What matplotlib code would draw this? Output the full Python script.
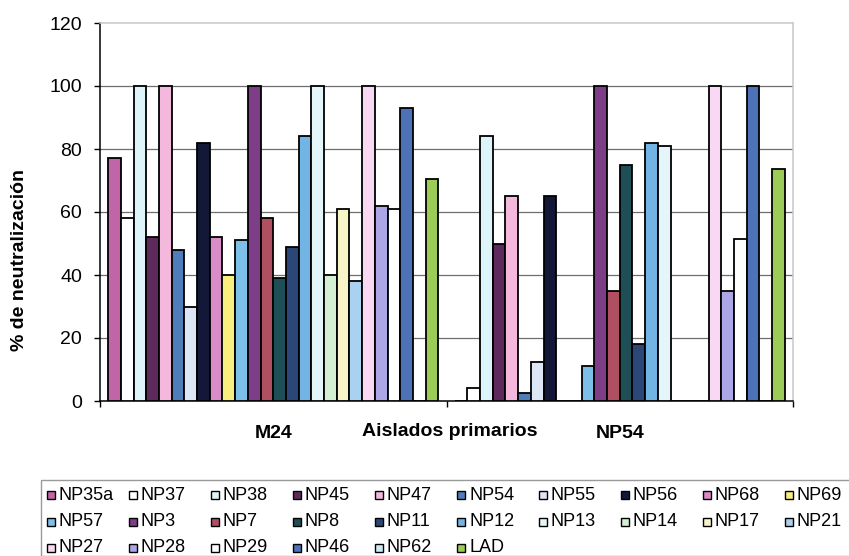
import matplotlib.pyplot as plt
import numpy as np
from matplotlib.patches import Rectangle

W, H = 849, 556

categories = ['M24', 'NP54']
series = ['NP35a', 'NP37', 'NP38', 'NP45', 'NP47', 'NP54', 'NP55', 'NP56', 'NP68', 'NP69',
          'NP57', 'NP3', 'NP7', 'NP8', 'NP11', 'NP12', 'NP13', 'NP14', 'NP17', 'NP21',
          'NP27', 'NP28', 'NP29', 'NP46', 'NP62', 'LAD']

# % neutralization for each isolate, one list per virus
m24 = [77, 58, 100, 52, 100, 48, 30, 82, 52, 40,
       51, 100, 58, 39, 49, 84, 100, 40, 61, 38,
       100, 62, 61, 93, 0, 70.5]
np54 = [0, 4, 84, 50, 65, 2.5, 12.5, 65, 0, 0,
        11, 100, 35, 75, 18, 82, 81, 0, 0, 0,
        100, 35, 51.5, 100, 0, 73.5]

colors = ['#BF65A8', '#FFFFFF', '#DDF4F8', '#5E2A5E', '#F4B8DC', '#4F7DBA', '#DDE6F5', '#141838',
          '#D98CC8', '#F8EE80', '#7CC0EA', '#7E3E87', '#B04F62', '#1F4F56', '#2B4778', '#72B4E4',
          '#E4F6FA', '#D5EFD2', '#F7F5C8', '#A9D2F0', '#F8D8F2', '#ADA6E6', '#FFFFFF', '#4D72B8',
          '#CFEAF7', '#9CCB57']

plt.rcParams['font.family'] = ['Liberation Sans', 'DejaVu Sans']

fig = plt.figure(figsize=(W / 100, H / 100), dpi=100)
ax = fig.add_axes([100 / W, 1 - 401 / H, 693 / W, 378 / H])

x = np.arange(len(categories))
n = len(series)
group_w = 0.953
bw = group_w / n
for i, name in enumerate(series):
    off = (i - (n - 1) / 2) * bw
    ax.bar(x + off, [m24[i], np54[i]], width=bw, color=colors[i],
           edgecolor='black', linewidth=1.3, zorder=3)

ax.set_xlim(-0.5, 1.5)
ax.set_ylim(0, 120)

# horizontal gridlines (120 is the plot frame)
for yv in range(20, 120, 20):
    ax.axhline(yv, color='#6E6E6E', linewidth=0.9, zorder=1)

ax.set_yticks(range(0, 121, 20))
ax.tick_params(axis='y', direction='out', length=4, width=1, labelsize=14, pad=9)

ax.set_xticks(x)
ax.set_xticklabels(categories, fontsize=14, fontweight='bold')
ax.set_xticks([-0.5, 0.5, 1.5], minor=True)
ax.tick_params(axis='x', which='major', length=0, pad=17)
ax.tick_params(axis='x', which='minor', direction='out', length=4, width=1)

for side in ['left', 'bottom']:
    ax.spines[side].set_color('black')
    ax.spines[side].set_linewidth(1.1)
for side in ['top', 'right']:
    ax.spines[side].set_color('#C8C8C8')
    ax.spines[side].set_linewidth(1.1)

fig.text(20 / W, 1 - 260 / H, '% de neutralización', rotation=90, fontsize=14,
         fontweight='bold', ha='center', va='center')
fig.text(450 / W, 1 - 431 / H, 'Aislados primarios', fontsize=14,
         fontweight='bold', ha='center', va='center')

# legend box: 10 columns, 3 rows
fig.patches.append(Rectangle((41 / W, 0), (W - 41) / W + 0.05, 1 - 480 / H,
                             transform=fig.transFigure, facecolor='white',
                             edgecolor='#9A9A9A', linewidth=1.0, zorder=0))
for i, name in enumerate(series):
    row, col = divmod(i, 10)
    cx = 47 + 82 * col
    cy = 495 + 26.5 * row
    fig.patches.append(Rectangle((cx / W, 1 - (cy + 4) / H), 8 / W, 8 / H,
                                 transform=fig.transFigure, facecolor=colors[i],
                                 edgecolor='black', linewidth=1.0))
    fig.text((cx + 12) / W, 1 - cy / H, name, fontsize=13, ha='left', va='center')

fig.savefig('out.png', dpi=100)
